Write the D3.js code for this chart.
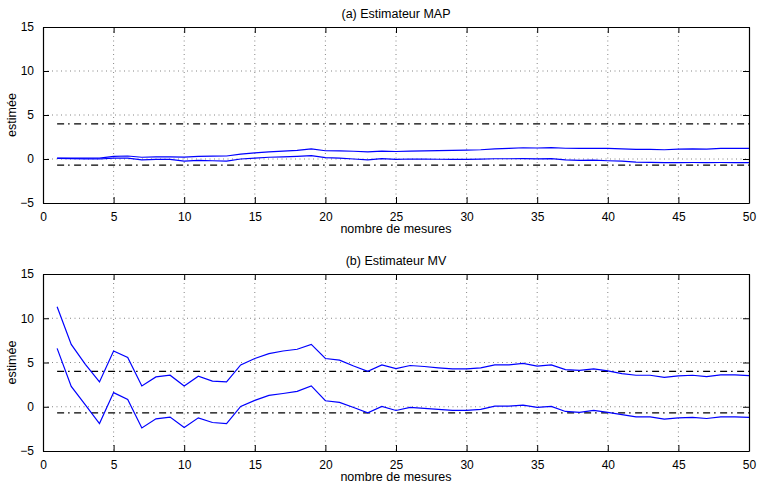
<!DOCTYPE html>
<html>
<head>
<meta charset="utf-8">
<script src="https://cdn.jsdelivr.net/npm/d3@7"></script>
<style>
  body { margin: 0; background: #fff; }
  svg { display: block; font-family: "Liberation Sans", Arial, sans-serif; }
</style>
</head>
<body>
<svg width="758" height="484"></svg>
<script>
var svg = d3.select("svg");

// nombre de mesures 1..50
var mesures = d3.range(1, 51);

// (a) Estimateur MAP : bornes supérieure / inférieure
var mapHaut = [0.1, 0.1, 0.1, 0.1, 0.3, 0.34, 0.2, 0.25, 0.25, 0.22,
	0.3, 0.32, 0.34, 0.55, 0.7, 0.8, 0.9, 0.98, 1.15, 0.94,
	0.92, 0.88, 0.8, 0.9, 0.85, 0.9, 0.92, 0.95, 0.98, 1.0,
	1.05, 1.15, 1.2, 1.28, 1.25, 1.3, 1.22, 1.2, 1.22, 1.2,
	1.15, 1.1, 1.1, 1.05, 1.13, 1.15, 1.12, 1.2, 1.2, 1.2];
var mapBas = [0.08, 0.05, 0.02, 0.0, 0.1, 0.1, -0.1, -0.05, -0.05, -0.25,
	-0.15, -0.2, -0.25, 0.0, 0.1, 0.2, 0.25, 0.3, 0.38, 0.15,
	0.1, 0.0, -0.1, 0.04, -0.05, 0.0, -0.02, -0.03, -0.04, -0.04,
	-0.02, 0.03, 0.03, 0.04, 0.02, 0.04, -0.1, -0.15, -0.12, -0.2,
	-0.25, -0.35, -0.38, -0.42, -0.41, -0.4, -0.42, -0.4, -0.41, -0.41];

// (b) Estimateur MV : bornes supérieure / inférieure
var mvHaut = [11.3, 7.05, 4.8, 2.8, 6.3, 5.57, 2.35, 3.37, 3.56, 2.35,
	3.45, 2.9, 2.8, 4.73, 5.45, 6.0, 6.3, 6.5, 7.05, 5.45,
	5.26, 4.6, 4.0, 4.73, 4.3, 4.66, 4.55, 4.4, 4.28, 4.28,
	4.4, 4.73, 4.73, 4.9, 4.6, 4.73, 4.2, 4.1, 4.28, 4.05,
	3.75, 3.56, 3.56, 3.33, 3.48, 3.56, 3.4, 3.6, 3.6, 3.52];
var mvBas = [6.6, 2.3, 0.2, -1.9, 1.6, 0.83, -2.4, -1.36, -1.17, -2.35,
	-1.25, -1.78, -1.9, 0.04, 0.72, 1.29, 1.5, 1.74, 2.35, 0.68,
	0.5, -0.08, -0.68, 0.04, -0.42, -0.08, -0.19, -0.3, -0.42, -0.42,
	-0.3, 0.08, 0.08, 0.19, -0.08, 0.04, -0.53, -0.64, -0.42, -0.64,
	-0.9, -1.14, -1.14, -1.4, -1.25, -1.2, -1.33, -1.14, -1.14, -1.2];

// valeurs de référence (traits mixtes)
var reference = [4, -0.7];

var xTicks = [0, 5, 10, 15, 20, 25, 30, 35, 40, 45, 50];
var yTicks = [-5, 0, 5, 10, 15];

var panels = [
	{ titre: "(a) Estimateur MAP", top: 27, bottom: 203, series: [mapHaut, mapBas] },
	{ titre: "(b) Estimateur MV", top: 274, bottom: 451, series: [mvHaut, mvBas] }
];

var left = 43, right = 749;
var x = d3.scaleLinear().domain([0, 50]).range([left, right]);
var fmt = d => d < 0 ? "\u2212" + Math.abs(d) : String(d);

panels.forEach(p => {
	var y = d3.scaleLinear().domain([-5, 15]).range([p.bottom, p.top]);
	var g = svg.append("g");

	// grille pointillée
	g.append("g").selectAll("line")
		.data(xTicks.slice(1, -1))
		.enter().append("line")
		.attr("x1", d => x(d)).attr("x2", d => x(d))
		.attr("y1", p.top).attr("y2", p.bottom)
		.attr("stroke", "#666").attr("stroke-width", 0.8)
		.attr("stroke-dasharray", "1,3.5");
	g.append("g").selectAll("line")
		.data(yTicks.slice(1, -1))
		.enter().append("line")
		.attr("x1", left).attr("x2", right)
		.attr("y1", d => y(d)).attr("y2", d => y(d))
		.attr("stroke", "#666").attr("stroke-width", 0.8)
		.attr("stroke-dasharray", "1,3.5");

	// traits mixtes de référence
	g.append("g").selectAll("line")
		.data(reference)
		.enter().append("line")
		.attr("x1", x(1)).attr("x2", x(50))
		.attr("y1", d => y(d)).attr("y2", d => y(d))
		.attr("stroke", "#000").attr("stroke-width", 1.2)
		.attr("stroke-dasharray", "7,4,1.5,4.5");

	// courbes
	var line = d3.line()
		.x((d, i) => x(mesures[i]))
		.y(d => y(d));
	g.append("g").selectAll("path")
		.data(p.series)
		.enter().append("path")
		.attr("d", line)
		.attr("fill", "none")
		.attr("stroke", "#0000ff")
		.attr("stroke-width", 1.2);

	// axes (ticks vers l'intérieur, boîte complète)
	var axB = g.append("g").attr("transform", `translate(0,${p.bottom})`)
		.call(d3.axisBottom(x).tickValues(xTicks).tickSizeInner(-6).tickSizeOuter(0).tickPadding(9).tickFormat(fmt));
	var axT = g.append("g").attr("transform", `translate(0,${p.top})`)
		.call(d3.axisTop(x).tickValues(xTicks).tickSizeInner(-6).tickSizeOuter(0).tickFormat(""));
	var axL = g.append("g").attr("transform", `translate(${left},0)`)
		.call(d3.axisLeft(y).tickValues(yTicks).tickSizeInner(-6).tickSizeOuter(0).tickPadding(9).tickFormat(fmt));
	var axR = g.append("g").attr("transform", `translate(${right},0)`)
		.call(d3.axisRight(y).tickValues(yTicks).tickSizeInner(-6).tickSizeOuter(0).tickFormat(""));
	[axB, axT, axL, axR].forEach(a => {
		a.select(".domain").attr("stroke", "#000").attr("stroke-width", 1.2);
		a.selectAll(".tick line").attr("stroke", "#000");
		a.selectAll("text").attr("font-family", "Liberation Sans, Arial, sans-serif")
			.attr("font-size", 12).attr("fill", "#000");
	});

	// titres
	g.append("text")
		.attr("x", (left + right) / 2).attr("y", p.top - 9)
		.attr("text-anchor", "middle").attr("font-size", 12.5)
		.text(p.titre);
	g.append("text")
		.attr("x", (left + right) / 2).attr("y", p.bottom + 30)
		.attr("text-anchor", "middle").attr("font-size", 12.5)
		.text("nombre de mesures");
	g.append("text")
		.attr("transform", `translate(16,${(p.top + p.bottom) / 2}) rotate(-90)`)
		.attr("text-anchor", "middle").attr("font-size", 12.5)
		.text("estimée");
});
</script>
</body>
</html>
